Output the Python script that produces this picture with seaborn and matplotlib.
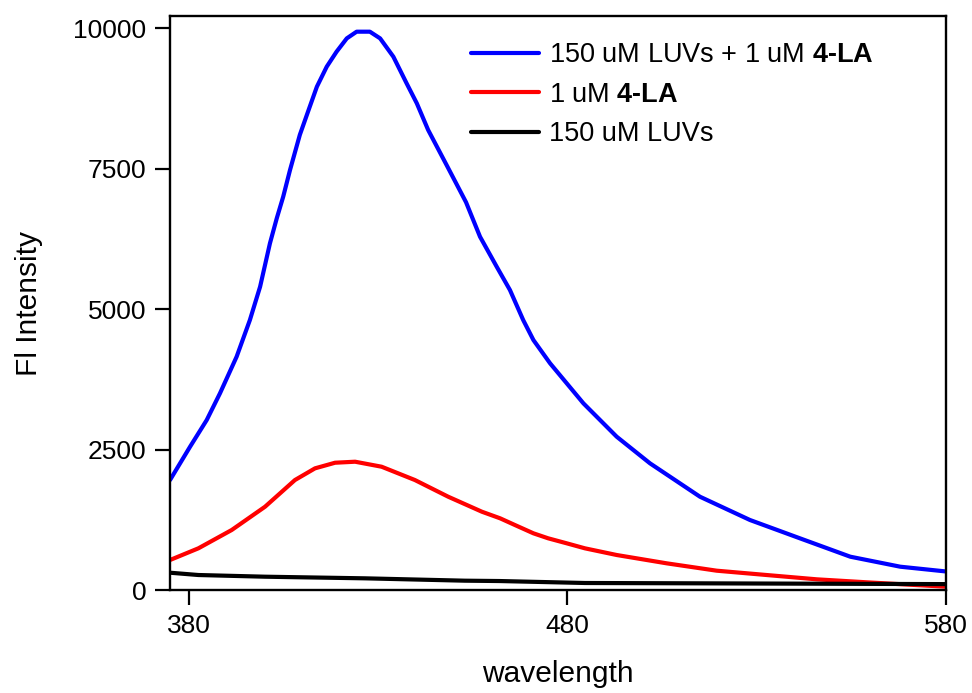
import numpy as np
import pandas as pd
import matplotlib
matplotlib.use("Agg")
import matplotlib.pyplot as plt
import seaborn as sns

# Emission spectra (wavelength in nm, fluorescence intensity in a.u.)
wl_luv_la = [375, 380.3, 384.7, 388.2, 392.6, 396.1, 398.8, 401.4, 403.2, 404.9,
             406.7, 409.3, 411.5, 413.8, 416.4, 419.0, 421.7, 424.3, 427.8, 430.5,
             434.0, 437.5, 440.2, 443.2, 448.3, 453.2, 456.9, 461.3, 464.8, 468.3,
             471, 475.4, 484.2, 493, 501.8, 515, 528.2, 541.4, 554.7, 567.9, 580]
fi_luv_la = [1957, 2550, 3025, 3500, 4152, 4804, 5397, 6169, 6614, 6998,
             7473, 8100, 8520, 8956, 9312, 9579, 9816, 9935, 9935, 9816,
             9490, 9016, 8660, 8185, 7532, 6900, 6286, 5753, 5338, 4804,
             4448, 4034, 3322, 2728, 2254, 1660, 1246, 920, 593, 415, 330]

wl_la = [375, 382.5, 391.3, 400.1, 408, 413.3, 418.6, 423.9, 430.9, 439.7, 448.5,
         457.4, 462.2, 466.1, 471, 474.9, 479.8, 484.6, 493, 506.2, 519.4, 532.6,
         545.9, 559.1, 580]
fi_la = [534, 742, 1068, 1482, 1957, 2165, 2265, 2283, 2194, 1957, 1660,
         1393, 1276, 1157, 1009, 920, 831, 742, 623, 475, 344, 267,
         190, 137, 59]

wl_luv = [375, 382.5, 400.1, 426.5, 452.9, 462, 484.6, 515, 580]
fi_luv = [308, 267, 237, 208, 166, 160, 125, 119, 105]

series_names = ["150 uM LUVs + 1 uM 4-LA", "1 uM 4-LA", "150 uM LUVs"]
series_colors = ["#0000FF", "#FF0000", "#000000"]
legend_labels = [
    "150 uM LUVs + 1 uM $\\mathbf{4\u2010LA}$",
    "1 uM $\\mathbf{4\u2010LA}$",
    "150 uM LUVs",
]

x_ticks = [380, 480, 580]
y_ticks = [0, 2500, 5000, 7500, 10000]

df = pd.concat([
    pd.DataFrame({"wavelength": wl_luv_la, "FI": fi_luv_la, "sample": series_names[0]}),
    pd.DataFrame({"wavelength": wl_la, "FI": fi_la, "sample": series_names[1]}),
    pd.DataFrame({"wavelength": wl_luv, "FI": fi_luv, "sample": series_names[2]}),
], ignore_index=True)

sns.set_style("ticks")
plt.rcParams["font.family"] = ["Liberation Sans", "DejaVu Sans"]
plt.rcParams["mathtext.fontset"] = "custom"
plt.rcParams["mathtext.rm"] = "Liberation Sans"
plt.rcParams["mathtext.bf"] = "Liberation Sans:bold"
plt.rcParams["text.color"] = "black"
plt.rcParams["axes.labelcolor"] = "black"
plt.rcParams["xtick.color"] = "black"
plt.rcParams["ytick.color"] = "black"

fig = plt.figure(figsize=(9.72, 6.93), dpi=100)
ax = fig.add_axes([0.1749, 0.1486, 0.7984, 0.8283])

sns.lineplot(data=df, x="wavelength", y="FI", hue="sample", hue_order=series_names,
             palette=series_colors, estimator=None, sort=False,
             legend=False, ax=ax)
for line in ax.lines:
    line.set_linewidth(3.0)
    line.set_solid_joinstyle("round")

ax.set_xlim(375, 580)
ax.set_ylim(0, 10214)
ax.set_xticks(x_ticks)
ax.set_yticks(y_ticks)
ax.tick_params(axis="both", direction="out", length=11, width=1.6,
               labelsize=19, colors="black", pad=6)
for side in ["left", "right", "top", "bottom"]:
    ax.spines[side].set_visible(True)
    ax.spines[side].set_linewidth(1.7)
    ax.spines[side].set_color("black")

ax.set_xlabel("wavelength", fontsize=21.5, labelpad=16, color="black")
ax.set_ylabel("Fl Intensity", fontsize=21.5, labelpad=22, color="black")

handles = [plt.Line2D([], [], color=c, linewidth=3.0) for c in series_colors]
leg = ax.legend(handles, legend_labels, loc="upper left", bbox_to_anchor=(0.3876, 0.954),
                frameon=False, fontsize=19.5, handlelength=2.5, handletextpad=0.4,
                labelspacing=0.5, borderaxespad=0, borderpad=0)
for t in leg.get_texts():
    t.set_color("black")

fig.savefig("out.png", dpi=100, facecolor="white")
